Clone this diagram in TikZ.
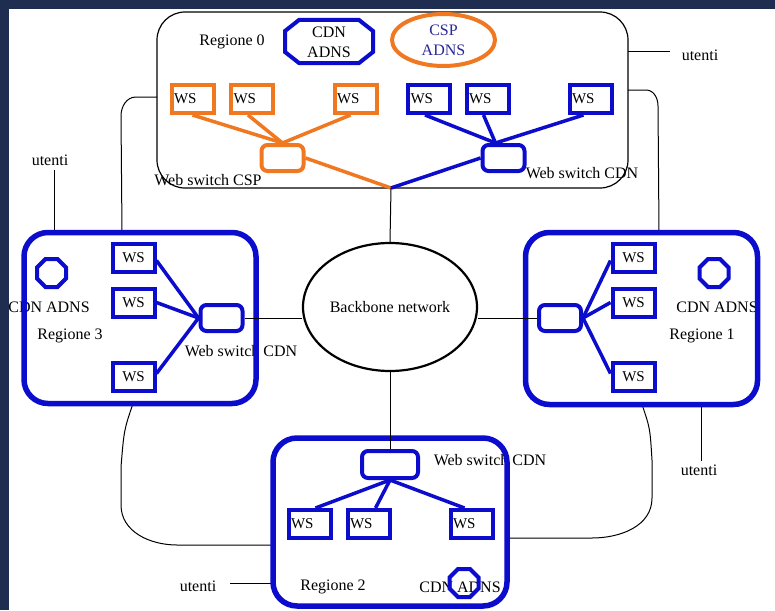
\documentclass[tikz,border=0pt]{standalone}
\usepackage{fontspec}
\setmainfont{Liberation Serif}
\usetikzlibrary{shapes.geometric,calc}
\definecolor{blu}{RGB}{12,12,205}
\definecolor{orng}{RGB}{240,120,32}
\definecolor{navy}{RGB}{31,45,80}
\definecolor{cspblue}{RGB}{40,40,150}
% octagon: cx, cy, half width, half height, chamfer x, chamfer y
\newcommand\myoct[6]{\draw[octo] (#1,#2) +({-#3},{#6-#4}) -- +({#5-#3},{-#4}) -- +({#3-#5},{-#4}) -- +({#3},{#6-#4}) -- +({#3},{#4-#6}) -- +({#3-#5},{#4}) -- +({#5-#3},{#4}) -- +({-#3},{#4-#6}) -- cycle;}
\begin{document}
\begin{tikzpicture}[x=1pt,y=-1pt,font=\fontsize{16}{20}\selectfont,
  txt/.style={inner sep=0pt,align=center},
  ws/.style={draw,line width=4pt,minimum width=42pt,minimum height=28pt,inner sep=0pt,text width=37pt,font=\fontsize{15}{17}\selectfont},
  wsl/.style={ws,align=left},
  wsc/.style={ws,align=center},
  sw/.style={draw,line width=4pt,rounded corners=6pt,minimum width=42pt,minimum height=26pt,inner sep=0pt},
  region/.style={draw=blu,line width=5.5pt,rounded corners=24pt,inner sep=0pt},
  blink/.style={blu,line width=3.5pt},
  olink/.style={orng,line width=3.5pt},
  wire/.style={black,line width=1pt},
  octo/.style={draw=blu,line width=4pt}]
\useasboundingbox (0,0) rectangle (775,610);
\fill[white] (0,0) rectangle (775,610);

% thin black wires
\coordinate (u0a) at (157,97);
\draw[wire] (u0a) -- (136,97) to[out=180,in=90] (121,116) -- (122,232.5);
\coordinate (uLa) at (54,170);
\draw[wire] (uLa) -- (54,232.5);
\coordinate (u0b) at (628,52);
\coordinate (u0be) at (670,52);
\draw[wire] (u0b) -- (u0be);
\coordinate (u0c) at (628,90);
\draw[wire] (u0c) -- (646,90) to[out=0,in=90] (658,106) -- (659,232.5);
\coordinate (u1a) at (701,404.5);
\coordinate (u1e) at (701,461);
\draw[wire] (u1a) -- (u1e);
\coordinate (u1b) at (642,404.5);
\draw[wire] (u1b) .. controls (650,428) .. (652,460) -- (652,498) to[out=270,in=0] (592,538) -- (507.5,538);
\coordinate (u3a) at (133,403.5);
\draw[wire] (u3a) .. controls (124,430) .. (121,467) -- (121,505) to[out=270,in=180] (177,545) -- (273,545);
\coordinate (u2a) at (230,583);
\draw[wire] (u2a) -- (273,583);

% region 0
\node[draw,line width=1.2pt,rounded corners=28pt,minimum width=471pt,minimum height=176pt,inner sep=0pt] (r0) at (392.5,100) {};

% free text labels
\node[txt] (lr0) at (232,42) {Regione 0};
\node[txt] (lwcsp) at (208,180) {Web switch CSP};
\node[txt] (lwcdn0) at (582,173) {Web switch CDN};
\node[txt] (ut0) at (700,55) {utenti};
\node[txt] (utL) at (50,160) {utenti};
\node[txt] (cdn3) at (49,307) {CDN ADNS};
\node[txt] (lr3) at (70,336) {Regione 3};
\node[txt] (lwcdn3) at (241,351) {Web switch CDN};
\node[txt] (cdn1) at (717,307) {CDN ADNS};
\node[txt] (lr1) at (702,336) {Regione 1};
\node[txt] (ut1) at (699,470) {utenti};
\node[txt] (lwcdn2) at (490,460) {Web switch CDN};
\node[txt] (lr2) at (333,587) {Regione 2};
\node[txt] (cdn2) at (460,587) {CDN ADNS};
\node[txt] (ut2) at (198,586) {utenti};

% regions 1,2,3
\node[region,minimum width=232pt,minimum height=172pt] (r1) at (641.5,318.5) {};
\node[region,minimum width=232pt,minimum height=171pt] (r3) at (140,318) {};
\node[region,minimum width=234pt,minimum height=168pt] (r2) at (390,522) {};

% backbone
\node[ellipse,draw,line width=2.2pt,minimum width=174pt,minimum height=128pt,inner sep=0pt] (bb) at (390,307) {Backbone network};
\coordinate (j) at (391,188);

% region 0 contents
\node[wsl,draw=orng] (ws01) at (192.5,99) {WS};
\node[wsl,draw=orng] (ws02) at (252,99) {WS};
\node[wsl,draw=orng] (ws03) at (355.5,99) {WS};
\node[wsl,draw=blu] (ws04) at (429,99) {WS};
\node[wsl,draw=blu] (ws05) at (487.5,99) {WS};
\node[wsl,draw=blu] (ws06) at (590.5,99) {WS};
\node[sw,draw=orng] (sw0a) at (282.5,158) {};
\node[sw,draw=blu] (sw0b) at (503.5,158) {};
\draw[olink] (ws01.south) -- (sw0a.north);
\draw[olink] ($(ws02.south)+(-4,0)$) -- (sw0a.north);
\draw[olink] ($(ws03.south)+(-5,0)$) -- (sw0a.north);
\draw[olink] (sw0a.east) -- (j);
\draw[blink] ($(ws04.south)+(-4,0)$) -- ($(sw0b.north)+(-8,0)$);
\draw[blink] ($(ws05.south)+(-4,0)$) -- ($(sw0b.north)+(-8,0)$);
\draw[blink] ($(ws06.south)+(-7,0)$) -- ($(sw0b.north)+(-8,0)$);
\draw[blink] (sw0b.west) -- (j);
\draw[wire] (j) -- (bb.north);

\node[ellipse,draw=orng,line width=4pt,minimum width=103pt,minimum height=52pt,inner sep=0pt,text=cspblue,align=center] (csp) at (443.5,40) {CSP\\ADNS};
\node[txt] (cdn0) at (329,42) {CDN\\ADNS};
\myoct{329}{41.5}{44}{21.5}{14}{11}

% region 1
\node[wsc,draw=blu] (ws11) at (633.5,257.5) {WS};
\node[wsc,draw=blu] (ws12) at (633.5,302.5) {WS};
\node[wsc,draw=blu] (ws13) at (633.5,376.5) {WS};
\node[sw,draw=blu] (sw1) at (560,318) {};
\draw[blink] (sw1.east) -- ($(ws11.west)+(0,3)$);
\draw[blink] (sw1.east) -- (ws12.west);
\draw[blink] (sw1.east) -- ($(ws13.west)+(0,-3)$);
\draw[wire] (sw1.west) -- (sw1.west -| bb.east);
\myoct{714}{273}{14.5}{14}{8.5}{8.5}

% region 3
\node[wsc,draw=blu] (ws31) at (133.5,257.5) {WS};
\node[wsc,draw=blu] (ws32) at (133.5,302.5) {WS};
\node[wsc,draw=blu] (ws33) at (133.5,376.5) {WS};
\node[sw,draw=blu] (sw3) at (221.5,318) {};
\draw[blink] (sw3.west) -- ($(ws31.east)+(0,3)$);
\draw[blink] (sw3.west) -- (ws32.east);
\draw[blink] (sw3.west) -- ($(ws33.east)+(0,-3)$);
\draw[wire] (sw3.east) -- (sw3.east -| bb.west);
\myoct{51.5}{273}{14.5}{14}{8.5}{8.5}

% region 2
\node[wsl,draw=blu] (ws21) at (309.5,524) {WS};
\node[wsl,draw=blu] (ws22) at (368.5,524) {WS};
\node[wsl,draw=blu] (ws23) at (471.5,524) {WS};
\node[sw,draw=blu,minimum width=56pt,minimum height=27pt] (sw2) at (390,464.5) {};
\draw[blink] (sw2.south) -- ($(ws21.north)+(6,0)$);
\draw[blink] (sw2.south) -- ($(ws22.north)+(7,0)$);
\draw[blink] (sw2.south) -- ($(ws23.north)+(-7,0)$);
\draw[wire] (bb.south) -- (sw2.north);
\myoct{464}{583}{14.5}{14}{8.5}{8.5}

% navy frame
\fill[navy] (0,0) rectangle (775,9);
\fill[navy] (0,0) rectangle (9,610);
\end{tikzpicture}
\end{document}
